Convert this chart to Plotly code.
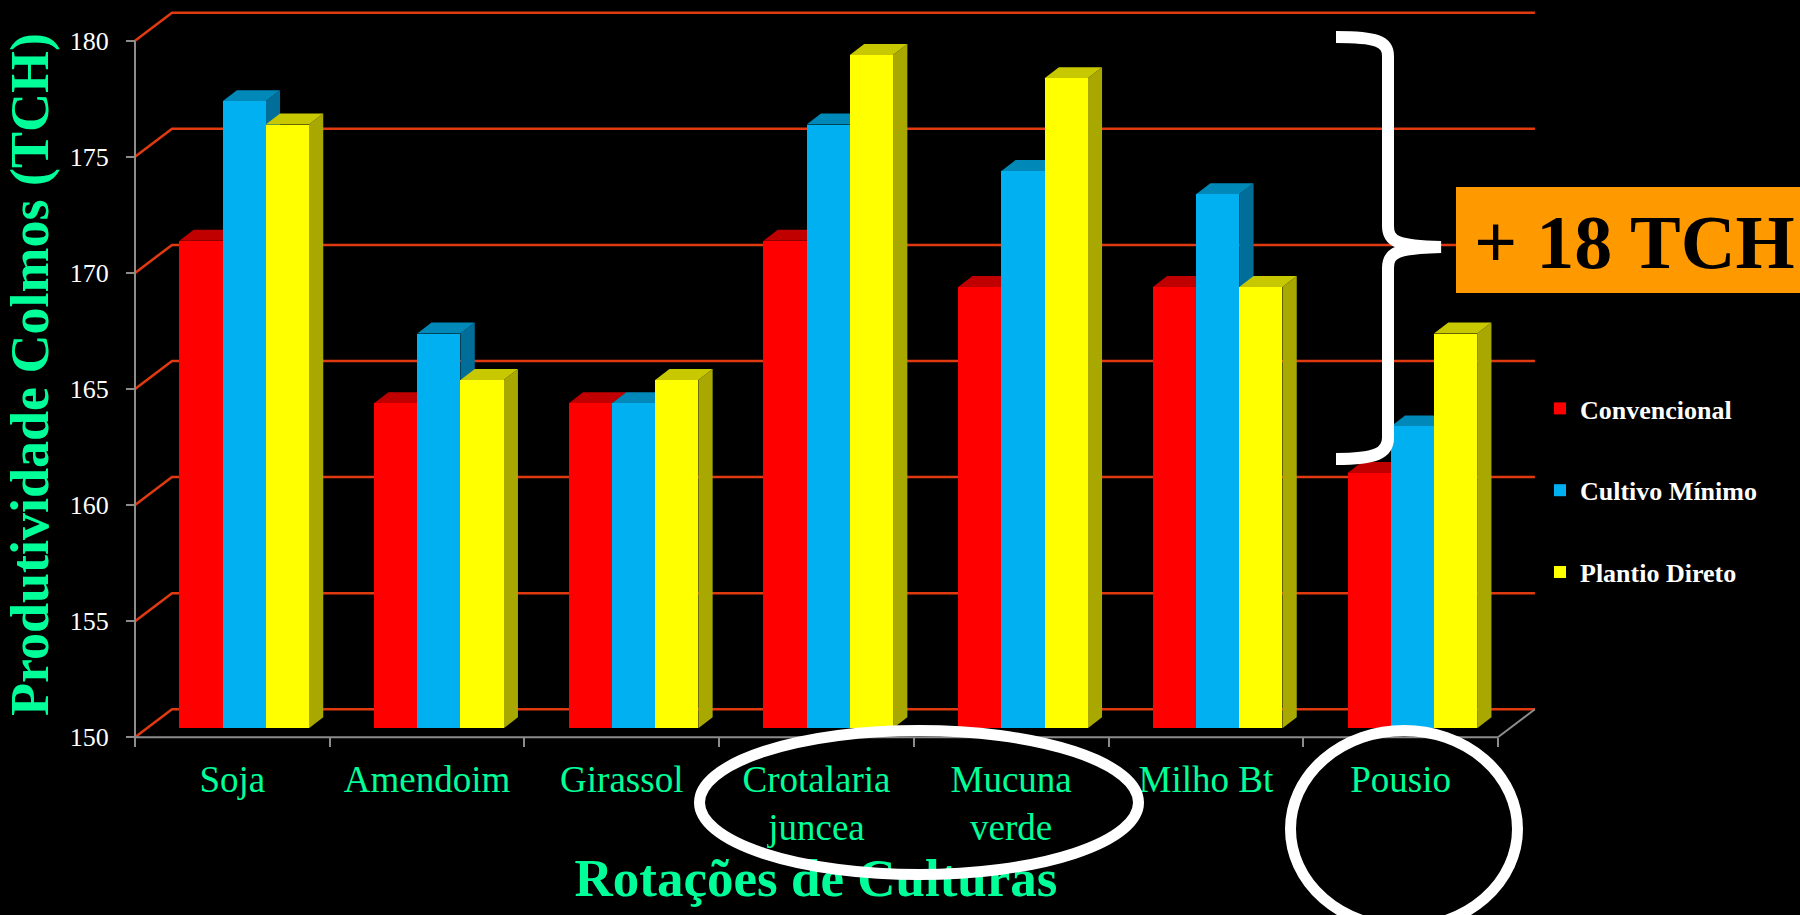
import plotly.graph_objects as go

# ---------------- data ----------------
categories = ["Soja", "Amendoim", "Girassol", "Crotalaria<br>juncea",
              "Mucuna<br>verde", "Milho Bt", "Pousio"]
series_names = ["Convencional", "Cultivo Mínimo", "Plantio Direto"]
convencional = [171, 164, 164, 171, 169, 169, 161]
cultivo_minimo = [177, 167, 164, 176, 174, 173, 163]
plantio_direto = [176, 165, 165, 179, 178, 169, 167]
y_ticks = [150, 155, 160, 165, 170, 175, 180]
y_title = "Produtividade Colmos (TCH)"
x_title = "Rotações de Culturas"
callout_text = "+ 18 TCH"

# ---------------- styles / geometry ----------------
front_colors = ["#FF0000", "#00B0F0", "#FFFF00"]
top_colors = ["#C00000", "#0088B8", "#C8C800"]
side_colors = ["#A00000", "#006E98", "#A8A800"]
GREEN = "#00FF99"
GRID = "#E23A10"
AXIS_GRAY = "#8C8C8C"
SERIF = "Liberation Serif"

W, H = 1800, 915
ML, MR, MT, MB = 116, 255, 0, 166
PW, PH = W - ML - MR, H - MT - MB
CAT_PX = 194.7           # pixels per category
UNIT_PX = 23.22          # pixels per TCH unit
AX_X = 135               # pixel x of front value axis
AX_Y = 737.3             # pixel y of 150 on front plane
X0 = -0.5 - (AX_X - ML) / CAT_PX
X1 = X0 + PW / CAT_PX
Y0 = 150 - (H - MB - AX_Y) / UNIT_PX
Y1 = Y0 + PH / UNIT_PX
YMIN, YMAX = y_ticks[0], y_ticks[-1]
NCAT = len(categories)
XL, XR = -0.5, NCAT - 0.5

WALL_DX, WALL_DY = 37 / CAT_PX, 28 / UNIT_PX
BAR_DX, BAR_DY = 11.8 / CAT_PX, 9 / UNIT_PX
TOP_DX, TOP_DY = 14.3 / CAT_PX, 11 / UNIT_PX
BAR_W = 43.2 / CAT_PX


def px(x):
    return (x - ML) / PW


def py(y):
    return (H - MB - y) / PH


series = [convencional, cultivo_minimo, plantio_direto]
xs = list(range(NCAT))

fig = go.Figure()
shapes = []

# back wall gridlines (with diagonal from front axis)
for t in y_ticks:
    shapes.append(dict(
        type="path", xref="x", yref="y", layer="below",
        path=f"M {XL},{t} L {XL + WALL_DX},{t + WALL_DY} L {XR + WALL_DX},{t + WALL_DY}",
        line=dict(color=GRID, width=2.5), fillcolor="rgba(0,0,0,0)"))

# right side of floor
shapes.append(dict(
    type="path", xref="x", yref="y", layer="below",
    path=f"M {XR},{YMIN} L {XR + WALL_DX},{YMIN + WALL_DY}",
    line=dict(color=AXIS_GRAY, width=2), fillcolor="rgba(0,0,0,0)"))

# bars: front faces as Bar traces, side/top faces derived from same data
for s, (name, vals) in enumerate(zip(series_names, series)):
    off = BAR_DX + (s - 1.5) * BAR_W
    fig.add_trace(go.Bar(
        x=xs, y=[v - YMIN for v in vals], base=YMIN + BAR_DY,
        offset=off, width=BAR_W, name=name, legendgroup=name,
        customdata=vals, hovertemplate="%{customdata}<extra>" + name + "</extra>",
        marker=dict(color=front_colors[s], line=dict(width=0))))

for i in xs:
    for s, vals in enumerate(series):
        off = BAR_DX + (s - 1.5) * BAR_W
        xl = i + off
        xr = xl + BAR_W
        b = YMIN + BAR_DY
        t = vals[i] + BAR_DY
        shapes.append(dict(
            type="path", xref="x", yref="y", layer="below",
            path=(f"M {xr},{b} L {xr},{t} L {xr + TOP_DX},{t + TOP_DY} "
                  f"L {xr + TOP_DX},{b + TOP_DY} Z"),
            fillcolor=side_colors[s], line=dict(width=0)))
        shapes.append(dict(
            type="path", xref="x", yref="y", layer="below",
            path=(f"M {xl},{t} L {xl + TOP_DX},{t + TOP_DY} "
                  f"L {xr + TOP_DX},{t + TOP_DY} L {xr},{t} Z"),
            fillcolor=top_colors[s], line=dict(width=0)))

# front axis lines
shapes.append(dict(type="line", xref="x", yref="y", layer="above",
                   x0=XL, x1=XR, y0=YMIN, y1=YMIN,
                   line=dict(color=AXIS_GRAY, width=2)))
shapes.append(dict(type="line", xref="x", yref="y", layer="above",
                   x0=XL, x1=XL, y0=YMIN, y1=YMAX,
                   line=dict(color=AXIS_GRAY, width=2)))

# x-axis title (as shape label so the ellipse can overlap it)
shapes.append(dict(type="rect", xref="paper", yref="paper", layer="above",
                   x0=px(560), x1=px(1072), y0=py(898), y1=py(846),
                   line=dict(width=0), fillcolor="rgba(0,0,0,0)",
                   label=dict(text=f"<b>{x_title}</b>", textposition="middle center",
                              font=dict(family=SERIF, size=53, color=GREEN))))

# highlight ellipses
shapes.append(dict(type="circle", xref="paper", yref="paper", layer="above",
                   x0=px(699.5), x1=px(1138.5), y0=py(730.5), y1=py(874.5),
                   line=dict(color="white", width=11)))
shapes.append(dict(type="circle", xref="paper", yref="paper", layer="above",
                   x0=px(1290.5), x1=px(1517.5), y0=py(730.5), y1=py(927.5),
                   line=dict(color="white", width=11)))

# brace
brace_pts = ("M {a},{b} C {c},{b} {d},{e} {d},{f} L {d},{g} "
             "C {d},{h} {i},{j} {k},{l} C {i},{m} {d},{n} {d},{o} "
             "L {d},{p} C {d},{q} {c},{r} {a},{r}")
brace = brace_pts.format(
    a=px(1336), b=py(37), c=px(1376), d=px(1388), e=py(41), f=py(56),
    g=py(226), h=py(241), i=px(1396), j=py(246), k=px(1441), l=py(247),
    m=py(248), n=py(253), o=py(268), p=py(438), q=py(453), r=py(459))
shapes.append(dict(type="path", xref="paper", yref="paper", layer="above",
                   path=brace, line=dict(color="white", width=12),
                   fillcolor="rgba(0,0,0,0)"))

# callout box
shapes.append(dict(type="rect", xref="paper", yref="paper", layer="above",
                   x0=px(1456), x1=px(1800), y0=py(293), y1=py(187),
                   fillcolor="#FF9900", line=dict(width=0)))

fig.add_annotation(x=px(1634), y=py(242), xref="paper", yref="paper",
                   text=f"<b>{callout_text}</b>", showarrow=False,
                   xanchor="center", yanchor="middle",
                   font=dict(family=SERIF, size=76, color="black"))

fig.update_layout(
    width=W, height=H,
    margin=dict(l=ML, r=MR, t=MT, b=MB, pad=0),
    paper_bgcolor="black", plot_bgcolor="black",
    barmode="overlay", bargap=0,
    shapes=shapes,
    showlegend=True,
    legend=dict(x=px(1540), y=py(385), xanchor="left", yanchor="top",
                bgcolor="rgba(0,0,0,0)", traceorder="grouped",
                tracegroupgap=45,
                font=dict(family=SERIF, size=26, color="white", weight="bold")),
    xaxis=dict(range=[X0, X1], anchor="free", position=(YMIN - Y0) / (Y1 - Y0),
               tickmode="array", tickvals=xs, ticktext=categories,
               ticks="", showgrid=False, zeroline=False, showline=False,
               ticklabelstandoff=17,
               tickfont=dict(family=SERIF, size=37, color=GREEN),
               minor=dict(tickmode="linear", tick0=-0.5, dtick=1,
                          ticks="outside", ticklen=9, tickwidth=2,
                          tickcolor=AXIS_GRAY, showgrid=False),
               fixedrange=True),
    yaxis=dict(range=[Y0, Y1], anchor="free", position=(XL - X0) / (X1 - X0),
               tickmode="array", tickvals=y_ticks,
               ticks="outside", ticklen=9, tickwidth=2, tickcolor=AXIS_GRAY,
               ticklabelstandoff=12,
               showgrid=False, zeroline=False, showline=False,
               tickfont=dict(family=SERIF, size=26, color="white"),
               title=dict(text=y_title + "\u00a0\u00a0", standoff=10,
                          font=dict(family=SERIF, size=54, color=GREEN,
                                    weight="bold")),
               fixedrange=True),
)

fig.write_html("out.html")
